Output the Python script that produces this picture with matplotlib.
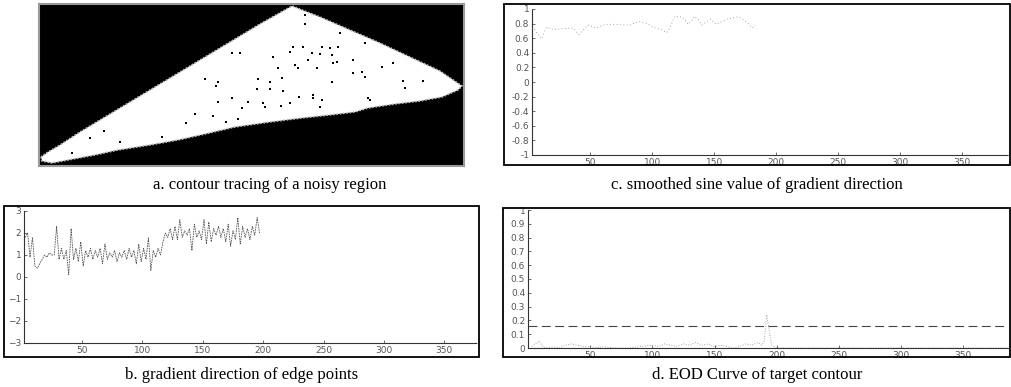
import numpy as np
import matplotlib.pyplot as plt
from matplotlib.patches import Polygon, Rectangle

W, H = 1011, 387

# ---- panel a: region outline (image pixel coords) ----
region_x = [41, 48, 60, 80, 110, 140, 170, 200, 230, 260, 292, 320, 350, 380, 410, 440, 462,
            458, 442, 420, 395, 368, 355, 330, 302, 270, 235, 205, 178, 150, 118, 95, 68, 52, 42]
region_y = [157, 152, 145, 132, 114, 96, 78, 60, 42, 24, 6, 17, 30, 43, 57, 71, 86,
            90, 97, 101, 104, 108, 112, 115, 118, 122, 127, 134, 140, 145, 150, 155, 160, 163, 161]
noise_zx = [810, 810, 915, 990, 775, 805, 860, 885, 910, 590, 615, 765, 830, 855, 890, 905, 715,
            820, 955, 1075, 730, 780, 790, 845, 895, 955, 980, 990, 1040, 510, 548, 543, 670, 705,
            740, 890, 1105, 1165, 1110, 665, 705, 745, 792, 835, 835, 860, 590, 550, 640, 685, 690,
            738, 765, 855, 1000, 1005, 620, 480, 535, 610, 573, 453, 380, 165, 208, 110, 255]
noise_zy = [45, 72, 100, 130, 140, 140, 140, 145, 140, 158, 160, 155, 160, 162, 165, 185, 172,
            180, 180, 188, 205, 195, 205, 205, 190, 220, 215, 230, 200, 237, 245, 258, 237, 245,
            235, 245, 243, 242, 265, 268, 268, 272, 290, 285, 295, 300, 295, 305, 305, 310, 322,
            318, 310, 322, 295, 300, 325, 342, 348, 358, 365, 368, 410, 413, 392, 460, 425]

# ---- panel b: gradient direction of edge points ----
grad_x = np.arange(3, 198, 2)
grad_y = [1.8, 2.0, 0.9, 1.8, 0.5, 0.4, 0.6, 0.8, 1.0, 0.9, 1.1, 1.0, 1.0, 2.3, 0.8, 1.3, 0.8, 1.2,
          0.1, 2.2, 0.8, 1.3, 0.7, 1.6, 0.5, 1.2, 0.9, 1.3, 0.8, 1.2, 0.9, 1.3, 0.6, 1.5, 0.8, 1.1,
          0.9, 1.2, 0.7, 1.1, 0.9, 1.2, 0.8, 1.3, 0.9, 1.2, 0.6, 1.5, 0.7, 1.3, 0.8, 1.8, 0.3, 1.2,
          0.9, 1.3, 1.0, 1.6, 2.0, 1.8, 2.2, 1.7, 2.3, 1.7, 2.6, 1.8, 2.1, 1.9, 2.2, 1.2, 2.4, 1.8,
          2.1, 1.7, 2.6, 1.5, 2.5, 1.6, 2.2, 1.9, 2.3, 1.8, 2.2, 1.6, 2.4, 1.4, 2.1, 1.7, 2.7, 1.5,
          2.3, 1.8, 2.2, 1.7, 2.3, 1.9, 2.7, 2.0]

# ---- panel c: smoothed sine value ----
sine_x = [5, 10.5, 14.7, 20, 28, 36, 41, 48, 55, 62, 68.5, 78, 82, 89, 96, 101, 108, 112, 114.5,
          118, 124, 127, 129, 132, 134, 137, 140, 147, 151.5, 160, 168.5, 171, 176, 181, 183]
sine_y = [0.72, 0.59, 0.75, 0.72, 0.73, 0.74, 0.65, 0.78, 0.74, 0.79, 0.79, 0.78, 0.78, 0.83, 0.8,
          0.75, 0.71, 0.68, 0.75, 0.9, 0.89, 0.84, 0.79, 0.84, 0.9, 0.86, 0.78, 0.86, 0.79, 0.86,
          0.89, 0.88, 0.82, 0.74, 0.78]

# ---- panel d: EOD curve ----
eod_x = [3, 6, 9, 12, 15, 20, 25, 30, 35, 40, 45, 50, 55, 60, 70, 80, 90, 100, 105, 110, 115, 120,
         125, 130, 135, 140, 145, 150, 155, 160, 165, 170, 175, 180, 185, 188, 190, 192, 194, 196,
         200, 210, 250, 300, 350, 386]
eod_y = [0.01, 0.03, 0.05, 0.01, 0.0, 0.01, 0.0, 0.02, 0.03, 0.02, 0.01, 0.01, 0.0, 0.01, 0.0, 0.0,
         0.01, 0.02, 0.01, 0.03, 0.02, 0.01, 0.03, 0.02, 0.04, 0.02, 0.03, 0.01, 0.02, 0.01, 0.0,
         0.01, 0.03, 0.02, 0.04, 0.02, 0.05, 0.24, 0.12, 0.02, 0.0, 0.0, 0.0, 0.0, 0.0, 0.0]
eod_thresh = 0.16

fig = plt.figure(figsize=(W / 100, H / 100), dpi=100)
fig.patch.set_facecolor('white')


def fax(left, top, right, bottom):
    # axes from pixel box
    return fig.add_axes([left / W, 1 - bottom / H, (right - left) / W, (bottom - top) / H])


def frame(left, top, right, bottom, lw=1.3):
    fig.patches.append(Rectangle((left / W, 1 - bottom / H), (right - left) / W, (bottom - top) / H,
                                 transform=fig.transFigure, fill=False, ec='black', lw=lw))


def style(ax):
    for s in ['top', 'right']:
        ax.spines[s].set_visible(False)
    for s in ['left', 'bottom']:
        ax.spines[s].set_linestyle((0, (2, 1)))
        ax.spines[s].set_linewidth(0.8)
        ax.spines[s].set_color('#333333')
    ax.tick_params(direction='in', length=2.5, width=0.6, labelsize=6.5, colors='#555555', pad=2)
    ax.set_facecolor('none')


# panel a
ax_a = fax(39, 4, 464, 166)
ax_a.set_xlim(39, 464)
ax_a.set_ylim(166, 4)
ax_a.set_facecolor('black')
ax_a.add_patch(Polygon(np.column_stack([region_x, region_y]), closed=True, fc='white',
                       ec='#bbbbbb', lw=1.2, ls=(0, (1, 1))))
ax_a.scatter(35 + np.array(noise_zx) / 3, np.array(noise_zy) / 3, s=1.6, c='black', marker='s', lw=0)
ax_a.set_xticks([])
ax_a.set_yticks([])
for s in ax_a.spines.values():
    s.set_edgecolor('#999999')
    s.set_linewidth(1.5)

# panel c
frame(504, 4, 1010, 165)
ax_c = fax(532, 9, 1008, 155)
ax_c.plot(sine_x, sine_y, color='#888888', lw=0.6, ls=(0, (1, 3)))
ax_c.set_xlim(3, 387)
ax_c.set_ylim(-1, 1)
ax_c.set_yticks(np.arange(-1, 1.01, 0.2))
ax_c.set_yticklabels(['-1', '-0.8', '-0.6', '-0.4', '-0.2', '0', '0.2', '0.4', '0.6', '0.8', '1'])
ax_c.set_xticks([50, 100, 150, 200, 250, 300, 350])
style(ax_c)

# panel b
frame(4, 206, 479, 357)
ax_b = fax(24, 211, 477, 343)
ax_b.plot(grad_x, grad_y, color='#555555', lw=0.6, ls=(0, (2, 1)))
ax_b.set_xlim(2, 377)
ax_b.set_ylim(-3, 3)
ax_b.set_yticks([-3, -2, -1, 0, 1, 2, 3])
ax_b.set_xticks([50, 100, 150, 200, 250, 300, 350])
style(ax_b)

# panel d
frame(503, 208, 1010, 357)
ax_d = fax(528, 210, 1008, 348)
ax_d.plot(eod_x, eod_y, color='#888888', lw=0.6, ls=(0, (1, 2)))
ax_d.axhline(eod_thresh, color='#444444', lw=0.8, ls=(0, (8, 4)))
ax_d.set_xlim(0, 386)
ax_d.set_ylim(0, 1)
ax_d.set_yticks(np.arange(0, 1.01, 0.1))
ax_d.set_yticklabels(['0', '0.1', '0.2', '0.3', '0.4', '0.5', '0.6', '0.7', '0.8', '0.9', '1'])
ax_d.set_xticks([50, 100, 150, 200, 250, 300, 350])
style(ax_d)

# captions
cap = dict(ha='center', va='center', fontsize=12, family='Liberation Serif', color='black')
fig.text(270 / W, 1 - 185 / H, 'a. contour tracing of a noisy region', **cap)
fig.text(757 / W, 1 - 185 / H, 'c. smoothed sine value of gradient direction', **cap)
fig.text(242 / W, 1 - 375 / H, 'b. gradient direction of edge points', **cap)
fig.text(757 / W, 1 - 375 / H, 'd. EOD Curve of target contour', **cap)

plt.savefig('out.png', dpi=100)
